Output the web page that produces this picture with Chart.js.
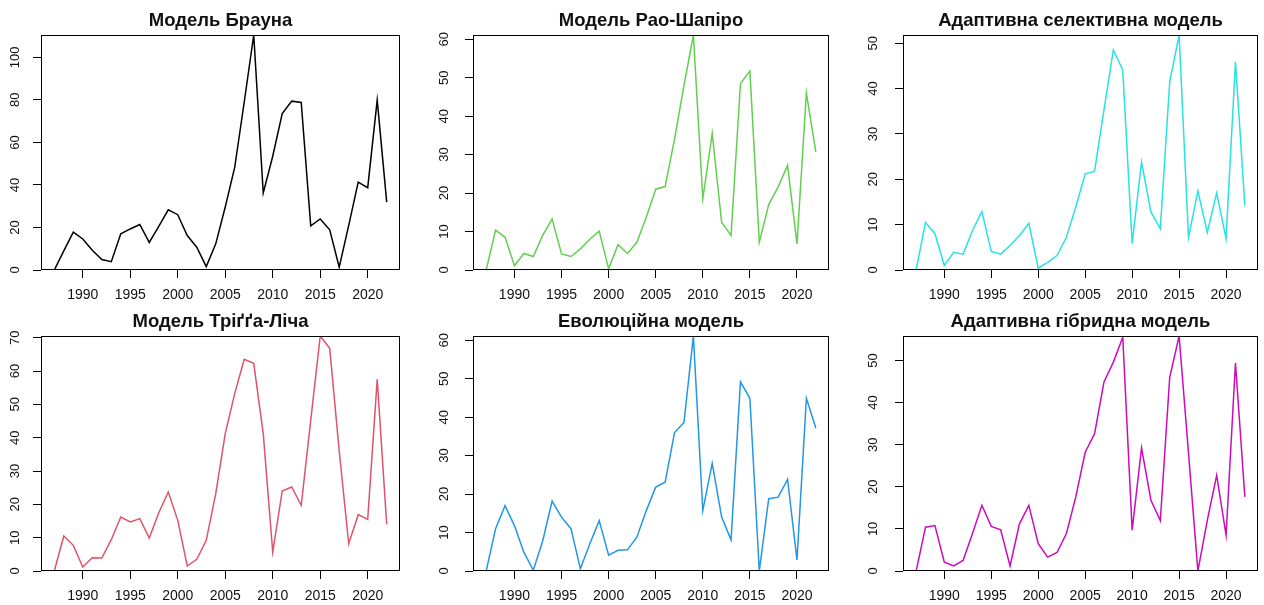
<!DOCTYPE html>
<html>
<head>
<meta charset="utf-8">
<title>Моделі прогнозування</title>
<script src="https://cdn.jsdelivr.net/npm/chart.js@4/dist/chart.umd.min.js"></script>
<style>
  html, body { margin: 0; padding: 0; background: #ffffff; }
  #wrap { position: relative; width: 1264px; height: 605px; overflow: hidden; background: #ffffff; }
  #wrap canvas { position: absolute; }
</style>
</head>
<body>
<div id="wrap"></div>
<script>
// ---- data ----
const years = [1987, 1988, 1989, 1990, 1991, 1992, 1993, 1994, 1995, 1996, 1997, 1998,
               1999, 2000, 2001, 2002, 2003, 2004, 2005, 2006, 2007, 2008, 2009, 2010,
               2011, 2012, 2013, 2014, 2015, 2016, 2017, 2018, 2019, 2020, 2021, 2022];

const brownModel = [0, 9, 17.8, 14.6, 9.3, 4.9, 3.9, 17, 19.3, 21.4, 13, 20.5,
                    28.3, 26, 16.2, 10.7, 1.6, 12.3, 29.6, 48.4, 79, 110.5, 36.2, 53.5,
                    73.6, 79.4, 78.8, 20.8, 24, 18.9, 1.3, 21, 41.3, 38.7, 79.9, 31.9];

const raoShapiro = [0, 10.4, 8.5, 1.1, 4.3, 3.5, 9, 13.3, 4.2, 3.5, 5.5, 8,
                    10.1, 0.3, 6.6, 4.3, 7.2, 13.7, 21, 21.7, 34, 48, 61.1, 18.5,
                    35.5, 12.4, 9, 48.5, 51.7, 7.2, 17, 21.6, 27.2, 6.8, 46, 30.7];

const adaptiveSelective = [0, 10.5, 8, 1, 3.9, 3.5, 8.7, 12.9, 4.1, 3.5, 5.4, 7.6,
                           10.3, 0.4, 1.7, 3.2, 7.2, 13.9, 21.2, 21.8, 35.3, 48.5, 44.1, 5.8,
                           23.8, 12.8, 9.1, 41.5, 51.8, 7.2, 17.4, 8.3, 17, 6.9, 45.9, 14.2];

const triggLeach = [0, 10.5, 7.7, 1.2, 4, 3.9, 9.4, 16.2, 14.7, 15.7, 9.9, 17.5,
                    23.7, 15.2, 1.5, 3.5, 9.2, 23.2, 41.2, 53.3, 63.5, 62.3, 41.2, 5.7,
                    24, 25.2, 19.7, 45.2, 70.5, 66.8, 36, 8.2, 16.9, 15.5, 57.5, 14];

const evolutionary = [0, 11, 17, 11.8, 4.9, 0.2, 7.8, 18.2, 14, 11, 0.6, 7,
                      13.1, 4.1, 5.4, 5.5, 8.8, 15.7, 21.8, 23.1, 36, 38.6, 61.1, 15.7,
                      28, 14, 8.1, 49.2, 44.9, 0, 18.8, 19.2, 23.8, 2.9, 44.9, 37.2];

const adaptiveHybrid = [0, 10.4, 10.8, 2.1, 1.2, 2.5, 8.9, 15.6, 10.6, 9.8, 1.2, 11.2,
                        15.6, 6.5, 3.3, 4.4, 8.9, 17.6, 28.2, 32.6, 44.9, 49.6, 55.5, 9.7,
                        29.2, 16.8, 12, 46, 55.8, 28, 0, 12, 22.7, 8.5, 49.4, 17.6];

const panelTitles = ['Модель Брауна', 'Модель Рао-Шапіро', 'Адаптивна селективна модель',
                     'Модель Тріґґа-Ліча', 'Еволюційна модель', 'Адаптивна гібридна модель'];
const panelSeries = [brownModel, raoShapiro, adaptiveSelective, triggLeach, evolutionary, adaptiveHybrid];
const yTickSteps = [20, 10, 10, 10, 10, 10];
const xTickStep = 5;

// ---- appearance ----
const lineColors = ['#000000', '#61D04F', '#28E2E5', '#DF536B', '#2297E6', '#CD0BBC'];
const FONT = '"Liberation Sans", Arial, sans-serif';
const TICK_LEN = 8;
const X_FONT = 14, Y_FONT = 13, TITLE_FONT = 18.5;
const TITLE_CENTER = 21;

// panel grid: canvas boxes and plot-region edges inside the page
const colCanvasLeft = [0, 421, 842];
const colCanvasWidth = [421, 421, 422];
const colPlotLeft = [41, 473, 903];
const colPlotRight = [400, 829, 1258];
const colYLabelOffset = [26, 29, 29.5];   // distance from plot edge to y-label centre
const rowCanvasTop = [0, 301];
const CANVAS_H = 303;
const PLOT_TOP = 35, PLOT_BOTTOM = 270;

// x range padded by 4% on each side, as in a base-R plot
const xMin = years[0] - 0.04 * (years[years.length - 1] - years[0]);
const xMax = years[years.length - 1] + 0.04 * (years[years.length - 1] - years[0]);

const measureCtx = document.createElement('canvas').getContext('2d');
function textWidth(str, size) {
  measureCtx.font = size + 'px ' + FONT;
  return measureCtx.measureText(str).width;
}

// box around the plotting region
const framePlugin = {
  id: 'frame',
  afterDatasetsDraw(chart) {
    const a = chart.chartArea;
    const ctx = chart.ctx;
    ctx.save();
    ctx.strokeStyle = '#000000';
    ctx.lineWidth = 1;
    const l = Math.round(a.left) + 0.5, t = Math.round(a.top) + 0.5;
    const r = Math.round(a.right) - 0.5, b = Math.round(a.bottom) - 0.5;
    ctx.strokeRect(l, t, r - l, b - t);
    ctx.restore();
  }
};

const wrap = document.getElementById('wrap');

panelSeries.forEach((values, idx) => {
  const col = idx % 3, row = Math.floor(idx / 3);
  const canvas = document.createElement('canvas');
  const w = colCanvasWidth[col];
  canvas.width = w;
  canvas.height = CANVAS_H;
  canvas.style.left = colCanvasLeft[col] + 'px';
  canvas.style.top = rowCanvasTop[row] + 'px';
  canvas.style.width = w + 'px';
  canvas.style.height = CANVAS_H + 'px';
  wrap.appendChild(canvas);

  const yAxisWidth = colPlotLeft[col] - colCanvasLeft[col];
  const rightPad = colCanvasLeft[col] + w - colPlotRight[col];
  const yMax = Math.max(...values);
  const step = yTickSteps[idx];

  // widest y label, used to centre the rotated labels at a fixed distance
  let widest = 0;
  for (let v = 0; v <= yMax; v += step) widest = Math.max(widest, textWidth(String(v), Y_FONT));
  const yPad = colYLabelOffset[col] - TICK_LEN - widest / 2;

  const titleLine = TITLE_FONT * 1.2;
  const titleTop = TITLE_CENTER - titleLine / 2;

  new Chart(canvas, {
    type: 'line',
    data: {
      datasets: [{
        data: years.map((yr, i) => ({ x: yr, y: values[i] })),
        borderColor: lineColors[idx],
        borderWidth: 1.5,
        pointRadius: 0,
        pointHoverRadius: 0,
        tension: 0,
        fill: false
      }]
    },
    options: {
      responsive: false,
      animation: false,
      devicePixelRatio: 1,
      events: [],
      layout: { padding: { left: 0, right: rightPad, top: 0, bottom: 0 } },
      plugins: {
        legend: { display: false },
        tooltip: { enabled: false },
        title: {
          display: true,
          text: panelTitles[idx],
          fullSize: false,
          color: '#111111',
          font: { family: FONT, size: TITLE_FONT, weight: 'bold', lineHeight: 1.2 },
          padding: { top: titleTop, bottom: PLOT_TOP - titleTop - titleLine }
        }
      },
      scales: {
        x: {
          type: 'linear',
          min: xMin,
          max: xMax,
          border: { display: false },
          grid: { drawOnChartArea: false, drawTicks: true, tickLength: TICK_LEN, color: '#000000', lineWidth: 1 },
          ticks: {
            stepSize: xTickStep,
            includeBounds: false,
            autoSkip: false,
            maxRotation: 0,
            minRotation: 0,
            padding: 9,
            color: '#111111',
            font: { family: FONT, size: X_FONT },
            callback: (v) => String(v)
          },
          afterFit(scale) { scale.height = CANVAS_H - PLOT_BOTTOM; }
        },
        y: {
          type: 'linear',
          min: 0,
          max: yMax,
          border: { display: false },
          grid: { drawOnChartArea: false, drawTicks: true, tickLength: TICK_LEN, color: '#000000', lineWidth: 1 },
          ticks: {
            stepSize: step,
            includeBounds: false,
            minRotation: 90,
            maxRotation: 90,
            crossAlign: 'center',
            padding: yPad,
            color: '#111111',
            font: { family: FONT, size: Y_FONT },
            callback: (v) => String(v)
          },
          afterFit(scale) { scale.width = yAxisWidth; }
        }
      }
    },
    plugins: [framePlugin]
  });
});
</script>
</body>
</html>
